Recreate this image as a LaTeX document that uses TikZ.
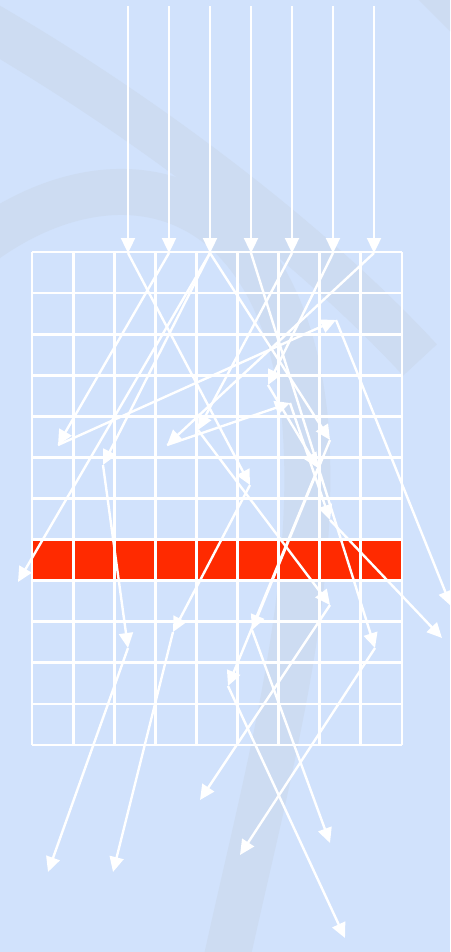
\documentclass[tikz,border=0pt]{standalone}
\usetikzlibrary{arrows.meta}
\definecolor{bg}{RGB}{209,226,252}
\definecolor{swoosh}{RGB}{205,220,242}
\definecolor{redband}{RGB}{255,42,0}
\begin{document}
\begin{tikzpicture}[x=1pt,y=-1pt,
  ray/.style={white, line width=2.4pt, -{Triangle[length=15pt,width=14pt]}},
  gridln/.style={white, line width=2.8pt},
  band/.style={swoosh, line width=46pt}]
\fill[bg] (0,0) rectangle (450,952);
\useasboundingbox (0,0) rectangle (450,952);
\begin{scope}
\clip (0,0) rectangle (450,952);
\draw[band] (-30,15) .. controls (120,100) and (300,230) .. (420,360);
\draw[band] (-40,260) .. controls (100,140) and (280,170) .. (305,420) .. controls (320,600) and (260,800) .. (220,990);
\draw[band, line width=30pt] (420,-20) .. controls (440,0) and (450,10) .. (470,30);
\end{scope}
% grid with red row
\fill[redband] (32,539.6) rectangle (402,580.7);
\foreach \i in {0,...,9} \draw[gridln] (32+41.111*\i,252) -- (32+41.111*\i,745);
\foreach \j in {0,...,12} \draw[gridln] (32,252+41.083*\j) -- (402,252+41.083*\j);
% entry points
\foreach \k/\x in {1/128,2/169,3/210,4/251,5/292,6/333,7/374}{
  \coordinate (s\k) at (\x,6);
  \coordinate (e\k) at (\x,253);
}
% scattering points
\coordinate (p1) at (250,485);
\coordinate (p2) at (173,632);
\coordinate (p3) at (103,465);
\coordinate (p4) at (128,648);
\coordinate (p5) at (58,445);
\coordinate (p6) at (336,320);
\coordinate (p7) at (330,440);
\coordinate (p8) at (252,630);
\coordinate (p9) at (167,445);
\coordinate (p10) at (290,403);
\coordinate (p11) at (330,520);
\coordinate (p12) at (198,430);
\coordinate (p13) at (330,605);
\coordinate (p14) at (375,648);
\coordinate (p15) at (268,385);
\coordinate (p16) at (318,468);
\coordinate (p17) at (228,686);
% exits
\coordinate (x1) at (113,872);
\coordinate (x2) at (48,872);
\coordinate (x3) at (451,606);
\coordinate (x4) at (18,582);
\coordinate (x5) at (330,843);
\coordinate (x6) at (442,638);
\coordinate (x7) at (200,800);
\coordinate (x8) at (240,855);
\coordinate (x9) at (345,938);
% incoming rays
\foreach \k in {1,...,7} \draw[ray] (s\k) -- (e\k);
% paths
\draw[ray] (e1) -- (p1); \draw[ray] (p1) -- (p2); \draw[ray] (p2) -- (x1);
\draw[ray] (e2) -- (p5); \draw[ray] (p5) -- (p6); \draw[ray] (p6) -- (x3);
\draw[ray] (e3) -- (p3); \draw[ray] (p3) -- (p4); \draw[ray] (p4) -- (x2);
\draw[ray] (e3) -- (x4);
\draw[ray] (e3) -- (p7); \draw[ray] (p7) -- (p8); \draw[ray] (p8) -- (x5);
\draw[ray] (e4) -- (p14); \draw[ray] (p14) -- (x8);
\draw[ray] (e5) -- (p12); \draw[ray] (p12) -- (p13); \draw[ray] (p13) -- (x7);
\draw[ray] (e6) -- (p15); \draw[ray] (p15) -- (p16); \draw[ray] (p16) -- (p17); \draw[ray] (p17) -- (x9);
\draw[ray] (e7) -- (p9); \draw[ray] (p9) -- (p10); \draw[ray] (p10) -- (p11); \draw[ray] (p11) -- (x6);
\end{tikzpicture}
\end{document}
